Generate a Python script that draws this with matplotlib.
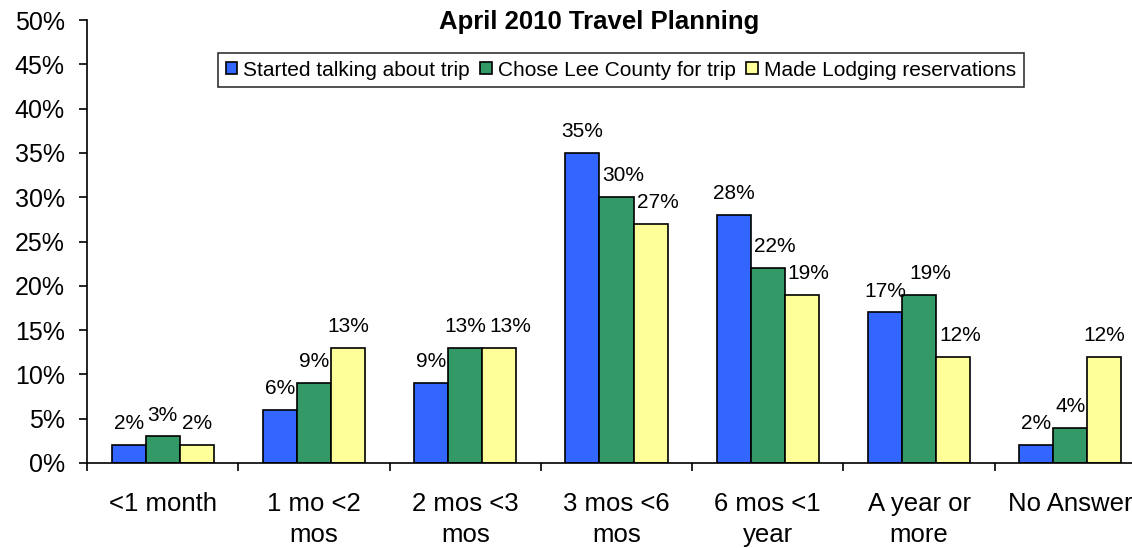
import numpy as np
import matplotlib.pyplot as plt
from matplotlib.ticker import FixedLocator, PercentFormatter

plt.rcParams['font.family'] = ['Liberation Sans', 'DejaVu Sans']

categories = ['<1 month', '1 mo <2\nmos', '2 mos <3\nmos', '3 mos <6\nmos',
              '6 mos <1\nyear', 'A year or\nmore', 'No Answer']
started = [2, 6, 9, 35, 28, 17, 2]
chose = [3, 9, 13, 30, 22, 19, 4]
lodging = [2, 13, 13, 27, 19, 12, 12]
series_names = ['Started talking about trip', 'Chose Lee County for trip',
                'Made Lodging reservations']
colors = ['#3366FF', '#339966', '#FFFF99']

fig = plt.figure(figsize=(11.32, 5.48), dpi=100)
ax = fig.add_axes([87 / 1132, 1 - 463 / 548, 1059 / 1132, 443 / 548])

x = np.arange(len(categories))
w = 0.225
all_bars = []
all_labels = []
for i, (vals, name, c) in enumerate(zip([started, chose, lodging], series_names, colors)):
    bars = ax.bar(x + (i - 1) * w, vals, w, color=c, edgecolor='black',
                  linewidth=1.2, label=name)
    labs = []
    for b, v in zip(bars, vals):
        t = ax.annotate(f'{v}%', (b.get_x() + b.get_width() / 2, v),
                        xytext=(0, 8.5), textcoords='offset points',
                        ha='center', va='bottom', fontsize=15)
        labs.append(t)
    all_bars.append(list(bars))
    all_labels.append(labs)

ax.set_xlim(-0.5, len(categories) - 0.5)
ax.set_ylim(0, 50)
ax.set_yticks(np.arange(0, 51, 5))
ax.yaxis.set_major_formatter(PercentFormatter(decimals=0))
ax.tick_params(axis='y', labelsize=18, length=6, width=1.2, pad=10, direction='out')

ax.set_xticks(x)
ax.set_xticklabels(categories, fontsize=18.5, linespacing=1.35)
ax.tick_params(axis='x', which='major', length=0, pad=21)
ax.xaxis.set_minor_locator(FixedLocator(np.arange(-0.5, len(categories), 1)))
ax.tick_params(axis='x', which='minor', length=6, width=1.2, direction='out')

for s in ['top', 'right']:
    ax.spines[s].set_visible(False)
for s in ['left', 'bottom']:
    ax.spines[s].set_linewidth(1.2)

fig.text(599 / 1132, 1 - 22 / 548, 'April 2010 Travel Planning', ha='center',
         va='center', fontsize=18.5, fontweight='bold')

leg = ax.legend(loc='center', bbox_to_anchor=(621 / 1132, 1 - 70 / 548),
                bbox_transform=fig.transFigure, ncol=3, fontsize=15,
                frameon=True, fancybox=False, edgecolor='black',
                handlelength=0.55, handleheight=0.55, handletextpad=0.3,
                columnspacing=0.5, borderpad=0.35, borderaxespad=0)
leg.get_frame().set_linewidth(1.2)

# nudge value labels right when they run into the bar or label to their left
r = fig.canvas.get_renderer()
for g in range(len(categories)):
    for i in range(1, 3):
        t = all_labels[i][g]
        bb = t.get_window_extent(r)
        left_bar = all_bars[i - 1][g].get_window_extent(r)
        left_lab = all_labels[i - 1][g].get_window_extent(r)
        shift = 0
        for o in (left_bar, left_lab):
            if o.y1 > bb.y0 and o.y0 < bb.y1 and o.x1 > bb.x0:
                shift = max(shift, o.x1 - bb.x0 + 3)
        if shift:
            t.set_position((shift * 72 / fig.dpi, 8.5))

fig.savefig('out.png', dpi=100)
